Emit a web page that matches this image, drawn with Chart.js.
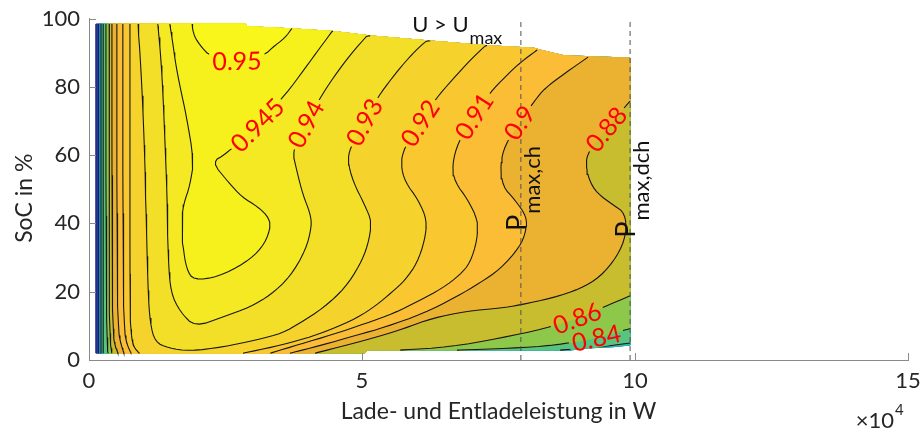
<!DOCTYPE html>
<html lang="de">
<head>
<meta charset="utf-8">
<title>Wirkungsgrad-Kennfeld</title>
<script src="https://cdn.jsdelivr.net/npm/chart.js@4.4.1/dist/chart.umd.min.js"></script>
<style>
  html, body { margin: 0; padding: 0; background: #ffffff; }
  canvas { display: block; }
</style>
</head>
<body>
<canvas id="map" width="922" height="432"></canvas>
<script>
// Efficiency map of the storage system over charge/discharge power and state of charge.
// Power is given in units of 10^4 W (the axis multiplier), SoC in %.

const powerTicks = [0, 5, 10, 15];
const socTicks = [0, 20, 40, 60, 80, 100];

// Operating range: lower and upper SoC limit over power
const rangeBottom = [[0.13, 2.0], [5.05, 2.0], [5.1, 2.9], [8.8, 2.9], [9.1, 3.5], [9.6, 3.9], [9.91, 4.4]];
const rangeTop = [[0.13, 98.4], [2.86, 98.4], [2.9, 97.6], [3.68, 97.0], [4.47, 96.2], [5.15, 94.9],
                  [6.25, 93.4], [7.34, 92.0], [8.15, 91.3], [8.3, 90.6], [8.7, 89.1], [9.91, 88.4]];

// Maximum charging / discharging power
const pMaxCharge = 7.91;
const pMaxDischarge = 9.91;

// Efficiency contour levels and band colours (first colour: below the lowest level)
const levels = [0.7, 0.8, 0.82, 0.84, 0.86, 0.88, 0.9, 0.91, 0.92, 0.93, 0.94, 0.945, 0.95];
const bandColors = ['#2b2a8f', '#1f7cdc', '#27bba9', '#57c57f', '#8ec84b', '#c7bd2e', '#ebb232',
                    '#fbbd36', '#f9c831', '#f6d32c', '#f3df27', '#f4e922', '#f6f11d', '#f8f61a'];

// Iso-efficiency lines [power, SoC]; every piece keeps the higher efficiency on its left-hand side
const iso070 = [[0.17, 98.4], [0.17, 2.0]];
const iso080 = [[0.22, 98.4], [0.22, 2.0]];
const iso082L = [[0.26, 98.4], [0.26, 2.0]];
const iso082R = [[8.63, 2.9], [9.36, 3.8], [9.91, 5.0]];
const iso084L = [[0.31, 98.4], [0.31, 46.9], [0.33, 4.4], [0.35, 2.0]];
const iso084R = [[6.74, 2.9], [7.71, 3.4], [8.55, 4.3], [9.29, 6.5], [9.91, 9.2]];
const iso086L = [[0.37, 98.4], [0.37, 46.9], [0.38, 5.9], [0.42, 2.0]];
const iso086R = [[5.70, 2.9], [6.61, 3.8], [7.53, 6.4], [8.35, 9.2], [8.94, 12.3], [9.41, 15.4], [9.91, 18.8]];
const iso088L = [[0.42, 98.4], [0.42, 46.9], [0.44, 7.3], [0.48, 4.1], [0.53, 2.0]];
const iso088R = [[4.14, 2.0], [4.73, 4.4], [5.27, 6.7], [5.75, 9.1], [6.30, 12.3], [6.92, 14.3], [7.53, 15.2],
                 [7.89, 16.1], [8.50, 18.2], [8.99, 20.8], [9.36, 24.3], [9.67, 30.2], [9.84, 36.6], [9.82, 43.0],
                 [9.60, 45.4], [9.30, 48.9], [9.16, 52.7], [9.10, 57.1], [9.14, 60.9], [9.47, 67.6], [9.80, 73.8],
                 [9.91, 75.8]];
const iso090L = [[0.51, 98.4], [0.51, 46.9], [0.53, 8.8], [0.59, 4.4], [0.64, 2.0]];
const iso090R = [[3.68, 2.0], [4.23, 4.2], [4.91, 7.3], [5.42, 9.6], [6.12, 13.6], [6.74, 18.6], [7.16, 22.6],
                 [7.53, 26.6], [7.89, 33.1], [8.00, 37.5], [8.02, 41.9], [7.80, 46.9], [7.58, 50.7], [7.53, 57.1],
                 [7.62, 63.0], [7.88, 69.5], [8.17, 76.1], [8.35, 79.6], [8.72, 84.0], [9.14, 88.7]];
const iso091L = [[0.62, 98.4], [0.62, 46.9], [0.64, 8.8], [0.70, 4.4], [0.77, 2.0]];
const iso091R = [[3.32, 2.0], [3.86, 4.6], [4.47, 7.5], [5.05, 10.6], [5.60, 13.8], [6.03, 17.2], [6.48, 21.1],
                 [6.79, 24.9], [6.98, 28.4], [7.11, 35.1], [7.12, 41.0], [6.94, 46.9], [6.70, 52.1], [6.65, 57.1],
                 [6.76, 63.8], [7.05, 71.4], [7.34, 78.2], [7.62, 82.9], [7.89, 87.0], [8.21, 90.8]];
const iso092L = [[0.75, 98.4], [0.75, 61.5], [0.75, 17.6], [0.77, 7.3], [0.82, 3.8], [0.92, 2.0]];
const iso092R = [[2.82, 2.0], [3.37, 3.8], [3.99, 6.4], [4.41, 8.8], [4.91, 12.3], [5.27, 16.1], [5.55, 19.9],
                 [5.79, 23.4], [6.01, 28.4], [6.15, 35.1], [6.19, 41.0], [6.03, 46.9], [5.79, 52.1], [5.71, 57.1],
                 [5.77, 62.1], [6.06, 69.4], [6.36, 76.7], [6.65, 82.0], [6.98, 87.8], [7.29, 92.5]];
const iso093 = [[0.90, 98.4], [0.97, 80.0], [1.02, 60.0], [1.04, 46.9], [1.08, 20.5], [1.12, 10.8], [1.21, 5.3],
                [1.45, 3.5], [1.85, 2.6], [2.45, 3.8], [3.08, 5.9], [3.55, 7.9], [3.86, 10.8], [4.29, 15.2],
                [4.69, 21.1], [4.96, 27.8], [5.11, 33.7], [5.18, 40.4], [5.05, 45.4], [4.84, 52.1], [4.74, 58.0],
                [4.78, 62.1], [5.04, 69.7], [5.29, 77.0], [5.55, 82.6], [5.79, 87.3], [6.03, 91.4], [6.25, 94.3]];
const iso094 = [[1.26, 98.4], [1.32, 87.8], [1.36, 76.1], [1.39, 64.4], [1.43, 48.3], [1.45, 29.3], [1.50, 19.6],
                [1.67, 14.1], [1.94, 9.7], [2.45, 12.6], [2.95, 15.5], [3.32, 19.0], [3.68, 24.3], [3.97, 32.2],
                [4.08, 39.2], [4.05, 43.0], [3.92, 48.3], [3.81, 55.1], [3.72, 61.5], [3.97, 69.1], [4.23, 76.7],
                [4.47, 82.6], [4.78, 89.3], [5.15, 96.0]];
const iso0945 = [[1.48, 98.4], [1.54, 92.2], [1.59, 86.4], [1.68, 79.1], [1.78, 71.7], [1.92, 58.6], [1.85, 51.2],
                 [1.74, 46.0], [1.70, 41.9], [1.72, 33.1], [1.79, 26.4], [1.92, 23.4], [2.36, 24.3], [2.86, 28.4],
                 [3.17, 32.8], [3.32, 38.1], [3.30, 41.6], [3.10, 44.8], [2.80, 47.7], [2.55, 52.1], [2.25, 58.0],
                 [2.51, 60.3], [3.08, 68.8], [3.61, 77.9], [3.96, 85.5], [4.23, 91.4], [4.47, 96.6]];
const iso095 = [[1.89, 98.4], [1.92, 94.9], [2.07, 91.4], [2.22, 89.0], [2.71, 87.6], [3.22, 89.3], [3.35, 91.4],
                [3.59, 94.3], [3.72, 97.2]];

// Pieces of every level, in the order of `levels`
const isoPieces = [[iso070], [iso080], [iso082L, iso082R], [iso084L, iso084R], [iso086L, iso086R],
                   [iso088L, iso088R], [iso090L, iso090R], [iso091L, iso091R], [iso092L, iso092R],
                   [iso093], [iso094], [iso0945], [iso095]];

// Inline contour labels: level and anchor point [power, SoC] on its line
const labelLevels = [0.95, 0.945, 0.94, 0.93, 0.92, 0.91, 0.9, 0.88, 0.86, 0.84];
const labelAnchors = [[2.71, 87.6], [3.08, 68.8], [3.97, 69.1], [5.04, 69.7], [6.06, 69.4],
                      [7.05, 71.4], [7.88, 69.5], [9.47, 67.6], [8.94, 12.3], [9.29, 6.5]];

// ---------- geometry helpers ----------
function edgeAt(edge, p) {
  if (p <= edge[0][0]) return edge[0][1];
  for (let i = 1; i < edge.length; i++) {
    if (p <= edge[i][0]) {
      const [x0, y0] = edge[i - 1], [x1, y1] = edge[i];
      return y0 + (y1 - y0) * (p - x0) / (x1 - x0);
    }
  }
  return edge[edge.length - 1][1];
}
const pLow = rangeBottom[0][0], pHigh = rangeBottom[rangeBottom.length - 1][0];
function clampToRange([p, s]) {
  const pc = Math.min(Math.max(p, pLow), pHigh);
  return [pc, Math.min(Math.max(s, edgeAt(rangeBottom, pc)), edgeAt(rangeTop, pc))];
}
function smooth(pts, passes) {
  let cur = pts;
  for (let k = 0; k < passes; k++) {
    const next = [cur[0]];
    for (let i = 0; i < cur.length - 1; i++) {
      const [x0, y0] = cur[i], [x1, y1] = cur[i + 1];
      next.push([0.75 * x0 + 0.25 * x1, 0.75 * y0 + 0.25 * y1], [0.25 * x0 + 0.75 * x1, 0.25 * y0 + 0.75 * y1]);
    }
    next.push(cur[cur.length - 1]);
    cur = next;
  }
  return cur;
}

// Border of the operating range, counter-clockwise
const ring = rangeBottom.concat(rangeTop.slice().reverse());
const ringCum = [0];
for (let i = 0; i < ring.length; i++) {
  const a = ring[i], b = ring[(i + 1) % ring.length];
  ringCum.push(ringCum[i] + Math.hypot(b[0] - a[0], b[1] - a[1]));
}
const ringLen = ringCum[ring.length];
function ringParam(pt) {
  let best = Infinity, t = 0;
  for (let i = 0; i < ring.length; i++) {
    const a = ring[i], b = ring[(i + 1) % ring.length];
    const dx = b[0] - a[0], dy = b[1] - a[1], l2 = dx * dx + dy * dy;
    let u = l2 ? ((pt[0] - a[0]) * dx + (pt[1] - a[1]) * dy) / l2 : 0;
    u = Math.max(0, Math.min(1, u));
    const d = Math.hypot(a[0] + u * dx - pt[0], a[1] + u * dy - pt[1]);
    if (d < best) { best = d; t = ringCum[i] + u * Math.sqrt(l2); }
  }
  return t;
}
function ringWalk(t0, t1) {
  let span = t1 - t0;
  if (span < 0) span += ringLen;
  const out = [];
  for (let k = 0; k < ring.length; k++) {
    let d = ringCum[k] - t0;
    if (d <= 0) d += ringLen;
    if (d < span) out.push([d, ring[k]]);
  }
  return out.sort((a, b) => a[0] - b[0]).map(o => o[1]);
}
// Area with efficiency >= level: its pieces joined along the border of the operating range
function regionPolygon(pieces) {
  const poly = [];
  pieces.forEach((cur, i) => {
    const nxt = pieces[(i + 1) % pieces.length];
    poly.push(...cur);
    poly.push(...ringWalk(ringParam(cur[cur.length - 1]), ringParam(nxt[0])));
  });
  poly.push(poly[0]);
  return poly;
}

const smoothPieces = isoPieces.map(pcs => pcs.map(pc => smooth(pc, 2).map(clampToRange)));
const toXY = pts => pts.map(([x, y]) => ({ x, y }));

function bandDataset(poly, color, order) {
  return {
    label: 'band', data: toXY(poly), fill: 'shape', indexAxis: 'y',
    backgroundColor: color, borderColor: color, borderWidth: 1,
    pointRadius: 0, order
  };
}

const datasets = [bandDataset(ring.concat([ring[0]]), bandColors[0], 100)];
smoothPieces.forEach((pcs, i) => datasets.push(bandDataset(regionPolygon(pcs), bandColors[i + 1], 99 - i)));
smoothPieces.forEach(pcs => pcs.forEach(pc => datasets.push({
  label: 'contour', data: toXY(pc), borderColor: '#161616', borderWidth: 1.1,
  pointRadius: 0, fill: false, order: 5
})));
[pMaxCharge, pMaxDischarge].forEach(p => datasets.push({
  label: 'limit', data: [{ x: p, y: 0 }, { x: p, y: 100 }], borderColor: '#505050', borderWidth: 1,
  borderDash: [5, 4], pointRadius: 0, fill: false, order: 2
}));

// ---------- drawing ----------
const FONT = 'Lato, "Open Sans", sans-serif';
const textColor = '#262626';
const axisColor = '#8a8a8a';

function labelBoxes(chart) {
  const { ctx, scales: { x, y } } = chart;
  ctx.save();
  ctx.font = '25px ' + FONT;
  const boxes = labelLevels.map((lv, k) => {
    const li = levels.indexOf(lv);
    const [p, s] = labelAnchors[k];
    const cx = x.getPixelForValue(p), cy = y.getPixelForValue(s);
    let dir = [1, 0], best = Infinity;
    isoPieces[li].forEach(pc => pc.forEach((pt, j) => {
      const d = Math.hypot(x.getPixelForValue(pt[0]) - cx, y.getPixelForValue(pt[1]) - cy);
      if (d < best) {
        best = d;
        const a = pc[Math.max(0, j - 1)], b = pc[Math.min(pc.length - 1, j + 1)];
        dir = [x.getPixelForValue(b[0]) - x.getPixelForValue(a[0]), y.getPixelForValue(b[1]) - y.getPixelForValue(a[1])];
      }
    }));
    if (dir[0] < 0) dir = [-dir[0], -dir[1]];
    const text = String(lv);
    return { cx, cy, angle: Math.atan2(dir[1], dir[0]), text, w: ctx.measureText(text).width + 6, h: 20 };
  });
  ctx.restore();
  return boxes;
}

const mapDecor = {
  id: 'mapDecor',
  beforeDatasetsDraw(chart) {
    chart.$labelBoxes = labelBoxes(chart);
  },
  beforeDatasetDraw(chart, args) {
    if (chart.data.datasets[args.index].label !== 'contour') return;
    const ctx = chart.ctx;
    ctx.save();
    ctx.beginPath();
    ctx.rect(0, 0, chart.width, chart.height);
    for (const b of chart.$labelBoxes) {
      const c = Math.cos(b.angle), sn = Math.sin(b.angle);
      const pts = [[-b.w / 2, -b.h / 2], [b.w / 2, -b.h / 2], [b.w / 2, b.h / 2], [-b.w / 2, b.h / 2]]
        .map(([u, v]) => [b.cx + u * c - v * sn, b.cy + u * sn + v * c]);
      ctx.moveTo(pts[0][0], pts[0][1]);
      pts.slice(1).forEach(q => ctx.lineTo(q[0], q[1]));
      ctx.closePath();
    }
    ctx.clip('evenodd');
  },
  afterDatasetDraw(chart, args) {
    if (chart.data.datasets[args.index].label === 'contour') chart.ctx.restore();
  },
  afterDatasetsDraw(chart) {
    const { ctx, scales: { x, y } } = chart;
    // contour labels
    ctx.save();
    ctx.font = '25px ' + FONT;
    ctx.fillStyle = '#ff0000';
    ctx.textAlign = 'center';
    ctx.textBaseline = 'middle';
    for (const b of chart.$labelBoxes) {
      ctx.save();
      ctx.translate(b.cx, b.cy);
      ctx.rotate(b.angle);
      ctx.fillText(b.text, 0, 1);
      ctx.restore();
    }
    ctx.restore();

    ctx.save();
    ctx.fillStyle = '#111111';
    ctx.textBaseline = 'alphabetic';
    ctx.textAlign = 'left';
    // voltage limit note
    const ux = x.getPixelForValue(5.92), uy = y.getPixelForValue(96.0);
    ctx.font = '22px ' + FONT;
    ctx.fillText('U > U', ux, uy);
    const uw = ctx.measureText('U > U').width;
    ctx.font = '18px ' + FONT;
    ctx.fillText('max', ux + uw + 1, uy + 12);
    // power limit notes, written upwards next to the dashed lines
    [[pMaxCharge, 37.8, 'max,ch'], [pMaxDischarge, 35.8, 'max,dch']].forEach(([p, s, sub]) => {
      const px = x.getPixelForValue(p), py = y.getPixelForValue(s);
      ctx.save();
      ctx.translate(px + 5, py);
      ctx.rotate(-Math.PI / 2);
      ctx.font = '27px ' + FONT;
      ctx.fillText('P', 0, 0);
      const pw = ctx.measureText('P').width;
      ctx.font = '22px ' + FONT;
      ctx.fillText(sub, pw + 1, 14);
      ctx.restore();
    });
    ctx.restore();
  },
  afterDraw(chart) {
    const { ctx, chartArea: a, scales: { x, y } } = chart;
    // inward tick marks
    ctx.save();
    ctx.strokeStyle = axisColor;
    ctx.lineWidth = 1;
    ctx.beginPath();
    x.ticks.forEach(t => {
      const px = Math.round(x.getPixelForValue(t.value)) + 0.5;
      ctx.moveTo(px, a.bottom);
      ctx.lineTo(px, a.bottom - 7);
    });
    y.ticks.forEach(t => {
      const py = Math.round(y.getPixelForValue(t.value)) + 0.5;
      ctx.moveTo(a.left, py);
      ctx.lineTo(a.left + 7, py);
    });
    ctx.stroke();
    // y axis title
    ctx.fillStyle = textColor;
    ctx.font = '23px ' + FONT;
    ctx.textAlign = 'center';
    ctx.textBaseline = 'middle';
    ctx.translate(25, (a.top + a.bottom) / 2 + 9);
    ctx.rotate(-Math.PI / 2);
    ctx.fillText('SoC in %', 0, 0);
    ctx.restore();
    // axis multiplier
    ctx.save();
    ctx.fillStyle = textColor;
    ctx.textBaseline = 'alphabetic';
    ctx.font = '22px ' + FONT;
    ctx.textAlign = 'right';
    ctx.fillText('\u00d710', x.right - 14, 428);
    ctx.font = '15px ' + FONT;
    ctx.textAlign = 'left';
    ctx.fillText('4', x.right - 13, 415);
    ctx.restore();
  }
};

Chart.defaults.font.family = FONT;
new Chart(document.getElementById('map'), {
  type: 'line',
  data: { datasets },
  options: {
    responsive: false,
    animation: false,
    devicePixelRatio: 1,
    events: [],
    layout: { padding: { top: 18.5, right: 14, left: 0, bottom: 0 } },
    plugins: { legend: { display: false }, tooltip: { enabled: false } },
    elements: { point: { radius: 0 }, line: { tension: 0 } },
    scales: {
      x: {
        type: 'linear', min: 0, max: 15,
        afterBuildTicks: s => { s.ticks = powerTicks.map(v => ({ value: v })); },
        afterFit: s => { s.height = 72; s.paddingLeft = 0; s.paddingRight = 0; },
        ticks: { font: { size: 22 }, color: textColor, padding: 8, maxRotation: 0, autoSkip: false },
        grid: { drawOnChartArea: false, drawTicks: false },
        border: { display: true, color: axisColor, width: 1 },
        title: { display: true, text: 'Lade- und Entladeleistung in W', font: { size: 23 }, color: textColor,
                 padding: { top: 0, bottom: 7 } }
      },
      y: {
        type: 'linear', min: 0, max: 100,
        afterBuildTicks: s => { s.ticks = socTicks.map(v => ({ value: v })); },
        afterFit: s => { s.width = 89; s.paddingTop = 0; s.paddingBottom = 0; },
        ticks: { font: { size: 22 }, color: textColor, padding: 9 },
        grid: { drawOnChartArea: false, drawTicks: false },
        border: { display: true, color: axisColor, width: 1 }
      }
    }
  },
  plugins: [mapDecor]
});
</script>
</body>
</html>
